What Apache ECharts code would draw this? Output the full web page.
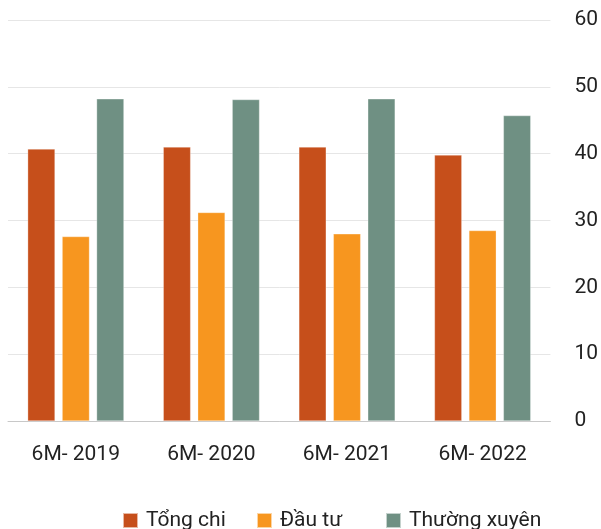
<!DOCTYPE html>
<html>
<head>
<meta charset="utf-8">
<script src="https://cdn.jsdelivr.net/npm/echarts@6/dist/echarts.min.js"></script>
<style>
  html, body { margin: 0; padding: 0; background: #fff; }
  #chart { width: 601px; height: 529px; }
</style>
</head>
<body>
<div id="chart"></div>
<script>
// Half-year spending periods
const categories = ['6M- 2019', '6M- 2020', '6M- 2021', '6M- 2022'];
// Spending series values
const tongChi = [40.7, 41.0, 41.0, 39.8];
const dauTu = [27.6, 31.2, 28.0, 28.5];
const thuongXuyen = [48.2, 48.1, 48.2, 45.7];
const seriesNames = ['Tổng chi', 'Đầu tư', 'Thường xuyên'];
const colors = ['#C64F1B', '#F7961F', '#6F9083'];
// Legend entry left edges
const legendLefts = [122, 256, 385];

const chart = echarts.init(document.getElementById('chart'));
const font = 'Roboto, "Noto Sans", sans-serif';

function bar(name, data, color) {
  return {
    name: name,
    type: 'bar',
    data: data,
    barGap: '26%',
    barCategoryGap: '29%',
    itemStyle: { color: color, borderColor: 'rgba(255,255,255,0.6)', borderWidth: 0.5 }
  };
}

const legends = seriesNames.map((name, i) => ({
  left: legendLefts[i],
  top: 510,
  itemWidth: 15,
  itemHeight: 15,
  icon: 'rect',
  padding: 0,
  textStyle: { fontSize: 21, color: '#222', fontFamily: font, padding: [0, 0, 0, 3] },
  data: [name]
}));

chart.setOption({
  animation: false,
  textStyle: { fontFamily: font },
  grid: { left: 8, right: 49, top: 20, bottom: 108, containLabel: false },
  legend: legends,
  xAxis: {
    type: 'category',
    data: categories,
    axisLine: { lineStyle: { color: '#c8c8c8', width: 1 } },
    axisTick: { show: false },
    axisLabel: { fontSize: 21, color: '#222', margin: 23, fontFamily: font }
  },
  yAxis: {
    type: 'value',
    position: 'right',
    min: 0,
    max: 60,
    interval: 10,
    axisLine: { show: false },
    axisTick: { show: false },
    splitLine: { lineStyle: { color: '#e6e6e6', width: 1 } },
    axisLabel: { fontSize: 21, color: '#222', margin: 24, fontFamily: font }
  },
  series: [
    bar(seriesNames[0], tongChi, colors[0]),
    bar(seriesNames[1], dauTu, colors[1]),
    bar(seriesNames[2], thuongXuyen, colors[2])
  ]
});
</script>
</body>
</html>
